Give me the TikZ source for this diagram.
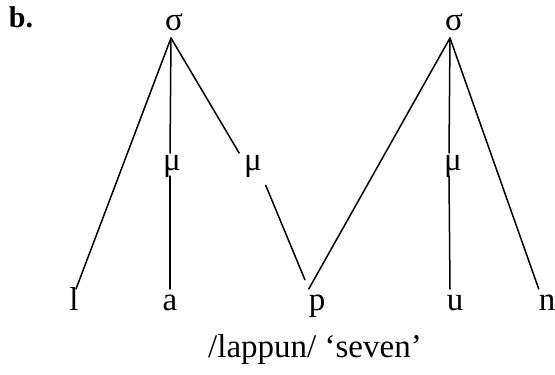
\documentclass[tikz,border=0pt]{standalone}
\usepackage{fontspec}
\setmainfont{Liberation Serif}
\begin{document}
\begin{tikzpicture}[x=1pt,y=-1pt,
  every node/.style={inner sep=0pt, outer sep=0pt, font=\fontsize{33}{39}\selectfont},
  syl/.style={anchor=base, text depth=8pt},
  mora/.style={anchor=base, text height=17pt, text depth=6pt},
  seg/.style={anchor=base, text height=21pt, text depth=0pt},
  assoc/.style={line width=1.5pt, line cap=round}]
\useasboundingbox (0,0) rectangle (555,375);
% labels
\node[anchor=base west, font=\fontsize{30}{36}\selectfont\bfseries] (lab) at (9,27) {b.};
% syllables
\node[syl] (s1) at (174,30) {σ};
\node[syl] (s2) at (454,30) {σ};
% moras
\node[mora] (m1) at (172,170) {μ};
\node[mora] (m2) at (253,170) {μ};
\node[mora] (m3) at (453,170) {μ};
% segments
\node[seg] (l) at (74,310) {l};
\node[seg] (a) at (170,310) {a};
\node[seg] (p) at (317,310) {p};
\node[seg] (u) at (455,310) {u};
\node[seg] (n) at (547,310) {n};
% gloss
\node[anchor=base] (gloss) at (315,357) {/lappun/ ‘seven’};
% association lines
\draw[assoc] ([xshift=-3pt]s1.south) -- ([xshift=2pt]l.north);
\draw[assoc] ([xshift=-3pt]s1.south) -- ([xshift=-2pt]m1.north);
\draw[assoc] ([xshift=-2pt]m1.south) -- (a.north);
\draw[assoc] ([xshift=-3pt]s1.south) -- ([xshift=-5pt]m2.north west);
\draw[assoc, shorten <=10pt, shorten >=10pt] (m2.south east) -- (p.north west);
\draw[assoc] ([xshift=-4pt]s2.south) -- (p.north west);
\draw[assoc] ([xshift=-4pt]s2.south) -- ([xshift=-4pt]m3.north);
\draw[assoc] ([xshift=-4pt]m3.south) -- ([xshift=-5pt]u.north);
\draw[assoc] ([xshift=-4pt]s2.south) -- (n.north west);
\end{tikzpicture}
\end{document}
